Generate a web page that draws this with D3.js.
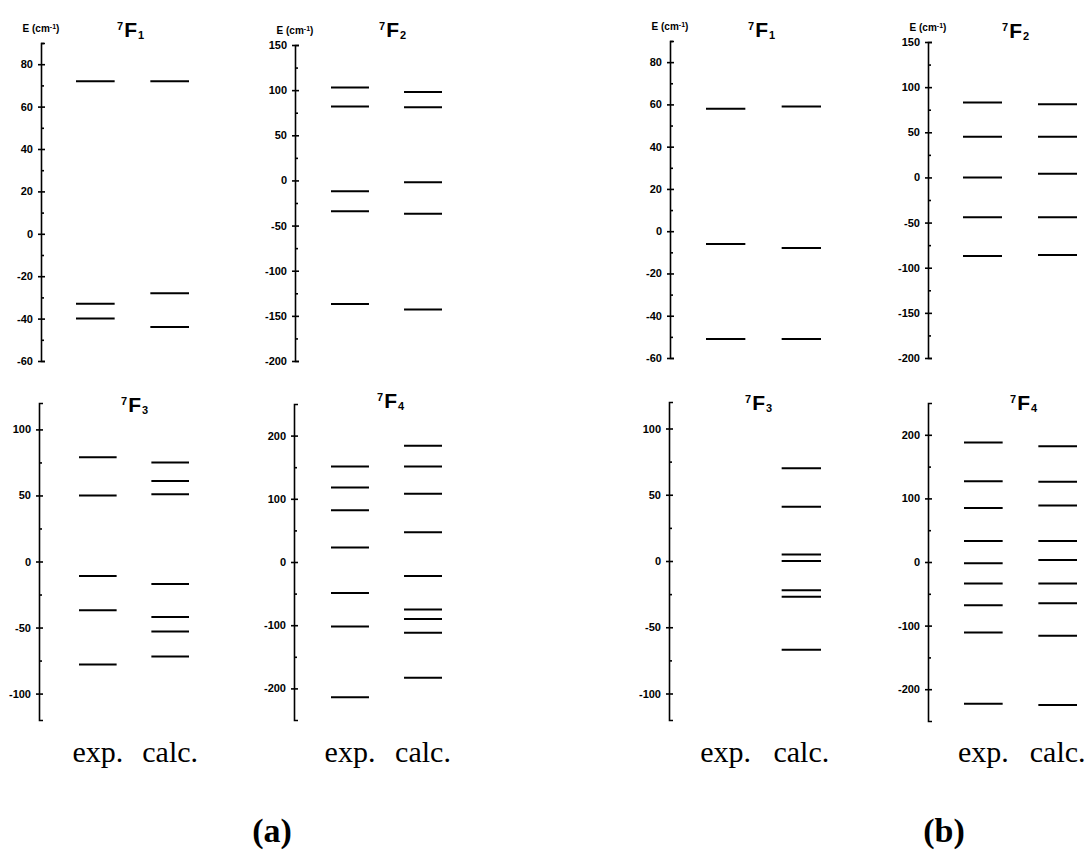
<!DOCTYPE html>
<html>
<meta charset="utf-8">
<head>
<style>
body { margin: 0; background: #fff; }
.axis path, .axis line { stroke: #000; stroke-width: 1.6px; }
.axis text { font-family: "Liberation Sans", Arial, sans-serif; font-weight: bold; font-size: 11px; fill: #000; }
.levels line { stroke: #000; stroke-width: 2px; }
.title { font-family: "Liberation Sans", Arial, sans-serif; font-weight: bold; }
.elabel { font-family: "Liberation Sans", Arial, sans-serif; font-weight: bold; font-size: 10px; }
.collabel { font-family: "Liberation Serif", "Times New Roman", serif; font-size: 30px; }
.figlabel { font-family: "Liberation Serif", "Times New Roman", serif; font-size: 34px; font-weight: bold; }
</style>
</head>
<body>
<svg width="1090" height="853"></svg>

<script src="https://cdn.jsdelivr.net/npm/d3@7"></script>

<script>

// multiplets and columns
var levelNames = ["1", "2", "3", "4"];
var columns = ["exp.", "calc."];

// energy axis ranges and ticks per multiplet (7F1..7F4)
var yDomains = [[-60, 90], [-200, 150], [-120, 120], [-250, 250]];
var majorTicks = [d3.range(-60, 81, 20), d3.range(-200, 151, 50), d3.range(-100, 101, 50), d3.range(-200, 201, 100)];
var minorTicks = [d3.range(-50, 91, 20), d3.range(-175, 150, 50), d3.range(-75, 100, 50), d3.range(-150, 200, 100)];

// (a) crystal-field levels, cm-1
var expA = [
  [72, -33, -40],
  [103, 82, -12, -34, -137],
  [79, 50, -11, -37, -78],
  [151, 118, 82, 23, -49, -102, -214]
];
var calcA = [
  [72, -28, -44],
  [98, 81, -2, -37, -143],
  [75, 61, 51, -17, -42, -53, -72],
  [184, 151, 108, 47, -22, -75, -90, -112, -183]
];

// (b) crystal-field levels, cm-1
var expB = [
  [58, -6, -51],
  [83, 45, 0, -44, -87],
  [],
  [188, 127, 85, 33, -2, -34, -68, -111, -223]
];
var calcB = [
  [59, -8, -51],
  [81, 45, 4, -44, -86],
  [70, 41, 5, 0, -22, -27, -67],
  [182, 126, 89, 33, 3, -34, -65, -116, -225]
];

// page layout of the eight small plots
var panels = [
  {set: "a", lv: 0, axis: 41,  top: 43,  bot: 361, x0: 76,  x1: 189,  tx: 117,  ty: 37,  elabel: true},
  {set: "a", lv: 1, axis: 295, top: 45,  bot: 361, x0: 331, x1: 442,  tx: 379,  ty: 37,  elabel: true},
  {set: "a", lv: 2, axis: 39,  top: 403, bot: 720, x0: 79,  x1: 189,  tx: 121,  ty: 412, cols: true},
  {set: "a", lv: 3, axis: 294, top: 404, bot: 720, x0: 331, x1: 442,  tx: 377,  ty: 408, cols: true},
  {set: "b", lv: 0, axis: 670, top: 41,  bot: 358, x0: 706, x1: 821,  tx: 748,  ty: 37,  elabel: true},
  {set: "b", lv: 1, axis: 928, top: 42,  bot: 358, x0: 963, x1: 1077, tx: 1002, ty: 38,  elabel: true},
  {set: "b", lv: 2, axis: 669, top: 402, bot: 720, x0: 706, x1: 821,  tx: 745,  ty: 410, cols: true},
  {set: "b", lv: 3, axis: 928, top: 403, bot: 721, x0: 964, x1: 1077, tx: 1010, ty: 410, cols: true}
];

var svg = d3.select("svg");

svg.append("rect")
    .attr("width", 1090)
    .attr("height", 853)
    .attr("fill", "#fff");

panels.forEach(function(p) {
  var y = d3.scaleLinear().domain(yDomains[p.lv]).range([p.bot, p.top]);
  var x = d3.scaleBand().domain(columns).range([p.x0, p.x1]).paddingInner(0.48);

  var g = svg.append("g");

  // main axis, ticks crossing the line
  var ax = g.append("g")
      .attr("class", "axis")
      .attr("transform", "translate(" + p.axis + ",0)")
      .call(d3.axisLeft(y)
          .tickValues(majorTicks[p.lv])
          .tickFormat(function(d) { return String(d); })
          .tickSize(3)
          .tickSizeOuter(-4)
          .tickPadding(5));
  ax.attr("font-family", null).attr("font-size", null);
  ax.selectAll(".tick line").attr("x1", 4);

  // minor ticks
  var mx = g.append("g")
      .attr("class", "axis")
      .attr("transform", "translate(" + p.axis + ",0)")
      .call(d3.axisLeft(y).tickValues(minorTicks[p.lv]).tickSize(-3).tickFormat(""));
  mx.select(".domain").remove();

  // energy levels
  var expVals = p.set == "a" ? expA[p.lv] : expB[p.lv];
  var calcVals = p.set == "a" ? calcA[p.lv] : calcB[p.lv];
  var rows = [];
  expVals.forEach(function(v) { rows.push({col: "exp.", e: v}); });
  calcVals.forEach(function(v) { rows.push({col: "calc.", e: v}); });

  g.append("g")
      .attr("class", "levels")
    .selectAll("line")
    .data(rows)
    .enter().append("line")
      .attr("x1", function(d) { return x(d.col); })
      .attr("x2", function(d) { return x(d.col) + x.bandwidth(); })
      .attr("y1", function(d) { return y(d.e); })
      .attr("y2", function(d) { return y(d.e); });

  // 7F_J title
  var t = g.append("text")
      .attr("class", "title")
      .attr("x", p.tx)
      .attr("y", p.ty);
  t.append("tspan").attr("font-size", 11).attr("dy", -7).text("7");
  t.append("tspan").attr("font-size", 21).attr("dy", 7).attr("dx", 1).text("F");
  t.append("tspan").attr("font-size", 11).attr("dy", 2).attr("dx", 1).text(levelNames[p.lv]);

  if (p.elabel) {
    var el = g.append("text")
        .attr("class", "elabel")
        .attr("x", p.axis)
        .attr("y", p.top - 11)
        .attr("text-anchor", "middle");
    el.append("tspan").text("E (cm");
    el.append("tspan").attr("font-size", 7).attr("dy", -3).text("-1");
    el.append("tspan").attr("dy", 3).text(")");
  }

  if (p.cols) {
    g.selectAll(".collabel")
      .data(columns)
      .enter().append("text")
        .attr("class", "collabel")
        .attr("x", function(d) { return x(d) + x.bandwidth() / 2; })
        .attr("y", 762)
        .attr("text-anchor", "middle")
        .text(function(d) { return d; });
  }
});

// figure labels
svg.append("text").attr("class", "figlabel").attr("x", 272).attr("y", 842)
    .attr("text-anchor", "middle").text("(a)");
svg.append("text").attr("class", "figlabel").attr("x", 944).attr("y", 842)
    .attr("text-anchor", "middle").text("(b)");

</script>
</body>
</html>
